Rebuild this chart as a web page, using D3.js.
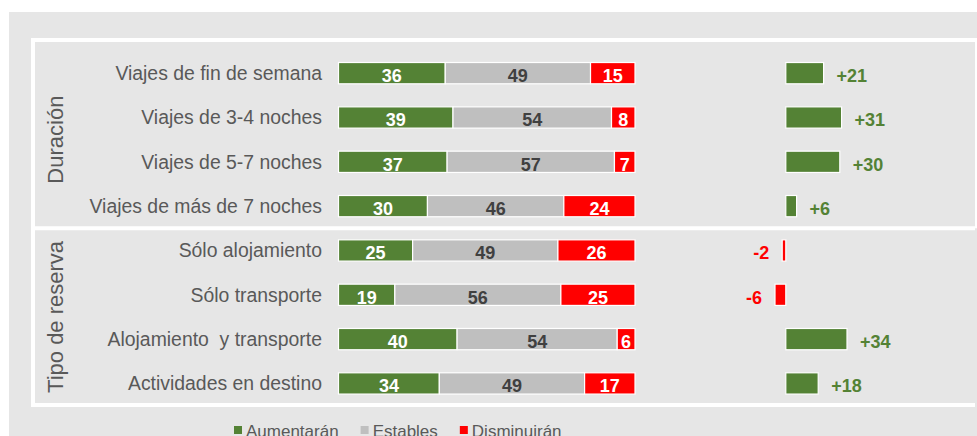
<!DOCTYPE html>
<meta charset="utf-8">
<head>
    <title>Expectativas de viajes</title>
</head>

<style>
  body {
    margin: 0;
    background: #fff;
  }

  svg text {
    font-family: Arial, "Liberation Sans", sans-serif;
  }

  .catLabel {
    font-size: 19.4px;
    fill: #595959;
    text-anchor: end;
    white-space: pre;
  }

  .groupLabel {
    font-size: 22px;
    fill: #595959;
    text-anchor: middle;
  }

  .valLabel {
    font-size: 18px;
    font-weight: bold;
    text-anchor: middle;
  }

  .netLabel {
    font-size: 18px;
    font-weight: bold;
  }

  .legendLabel {
    font-size: 17px;
    fill: #595959;
  }

  .frame {
    stroke: #fff;
    stroke-width: 4px;
  }
</style>
<body>
<script src="https://d3js.org/d3.v7.min.js"></script>

<script>
var width = 977,
    height = 436;

// data
var categories = [
  "Viajes de fin de semana",
  "Viajes de 3-4 noches",
  "Viajes de 5-7 noches",
  "Viajes de más de 7 noches",
  "Sólo alojamiento",
  "Sólo transporte",
  "Alojamiento  y transporte",
  "Actividades en destino"
];
var groups = ["Duración", "Tipo de reserva"];
var groupOf = [0, 0, 0, 0, 1, 1, 1, 1];

var series = ["Aumentarán", "Estables", "Disminuirán"];
var aumentaran  = [36, 39, 37, 30, 25, 19, 40, 34];
var estables    = [49, 54, 57, 46, 49, 56, 54, 49];
var disminuiran = [15, 8, 7, 24, 26, 25, 6, 17];
var saldo       = [21, 31, 30, 6, -2, -6, 34, 18];

var colors = ["#548235", "#bfbfbf", "#ff0000"];
var labelColors = ["#fff", "#404040", "#fff"];

// rows for the stack
var rows = categories.map(function(c, i) {
  return {cat: c, "Aumentarán": aumentaran[i], "Estables": estables[i], "Disminuirán": disminuiran[i]};
});

var stacked = d3.stack()
    .keys(series)
    .offset(d3.stackOffsetExpand)(rows);

var svg = d3.select("body").append("svg")
    .attr("width", width)
    .attr("height", height);

// background panel
svg.append("rect")
    .attr("x", 9).attr("y", 12)
    .attr("width", width - 9).attr("height", height - 12)
    .attr("fill", "#e6e6e6");

// scales
var y = d3.scaleBand()
    .domain(categories)
    .range([51, 405.6]);

var x = d3.scaleLinear()
    .domain([0, 1])
    .range([338.5, 635]);

var xNet = d3.scaleLinear()
    .domain([-6, 34])
    .range([775, 847]);

var barH = y.bandwidth() * 0.48;
function rowTop(d) { return y(d) + (y.bandwidth() - barH) / 2; }
function rowMid(d) { return y(d) + y.bandwidth() / 2; }

// group frames (white lines)
var sep = y(categories[4]);
svg.append("line").attr("class", "frame")
    .attr("x1", 31).attr("x2", width).attr("y1", 40).attr("y2", 40);
svg.append("line").attr("class", "frame")
    .attr("x1", 31).attr("x2", 975).attr("y1", sep).attr("y2", sep);
svg.append("line").attr("class", "frame")
    .attr("x1", 31).attr("x2", 975).attr("y1", 405).attr("y2", 405);
svg.append("line").attr("class", "frame")
    .attr("x1", 33).attr("x2", 33).attr("y1", 38).attr("y2", 407);
svg.append("line").attr("class", "frame")
    .style("stroke-width", "2px")
    .attr("x1", 976).attr("x2", 976).attr("y1", 38).attr("y2", sep);

// group labels, rotated
groups.forEach(function(g, gi) {
  var cats = categories.filter(function(c, i) { return groupOf[i] === gi; });
  var cy = (rowMid(cats[0]) + rowMid(cats[cats.length - 1])) / 2;
  svg.append("text")
      .attr("class", "groupLabel")
      .attr("transform", "translate(63," + cy + ") rotate(-90)")
      .text(g);
});

// category labels
svg.selectAll(".catLabel")
    .data(categories)
  .enter().append("text")
    .attr("class", "catLabel")
    .attr("x", 322)
    .attr("y", function(d) { return rowMid(d) + 7; })
    .text(function(d) { return d; });

// stacked bars
var layer = svg.selectAll(".layer")
    .data(stacked)
  .enter().append("g")
    .attr("class", "layer");

layer.selectAll("rect")
    .data(function(s) { return s.map(function(p) { return {p: p, key: s.key, idx: s.index}; }); })
  .enter().append("rect")
    .attr("x", function(d) { return x(d.p[0]); })
    .attr("y", function(d) { return rowTop(d.p.data.cat); })
    .attr("width", function(d) { return x(d.p[1]) - x(d.p[0]); })
    .attr("height", barH)
    .attr("fill", function(d) { return colors[d.idx]; })
    .attr("stroke", "#fff")
    .attr("stroke-width", 1.2);

layer.selectAll("text")
    .data(function(s) { return s.map(function(p) { return {p: p, key: s.key, idx: s.index}; }); })
  .enter().append("text")
    .attr("class", "valLabel")
    .attr("x", function(d) { return (x(d.p[0]) + x(d.p[1])) / 2; })
    .attr("y", function(d) { return rowMid(d.p.data.cat) + 9; })
    .attr("fill", function(d) { return labelColors[d.idx]; })
    .text(function(d) { return d.p.data[d.key]; });

// net balance bars
svg.selectAll(".net")
    .data(saldo)
  .enter().append("rect")
    .attr("class", "net")
    .attr("x", function(d) { return xNet(Math.min(0, d)); })
    .attr("y", function(d, i) { return rowTop(categories[i]); })
    .attr("width", function(d) { return Math.abs(xNet(d) - xNet(0)); })
    .attr("height", barH)
    .attr("fill", function(d) { return d < 0 ? colors[2] : colors[0]; })
    .attr("stroke", "#fff")
    .attr("stroke-width", 1.2);

svg.selectAll(".netLabel")
    .data(saldo)
  .enter().append("text")
    .attr("class", "netLabel")
    .attr("x", function(d) { return d < 0 ? xNet(d) - 13 : xNet(d) + 13; })
    .attr("y", function(d, i) { return rowMid(categories[i]) + 9; })
    .attr("text-anchor", function(d) { return d < 0 ? "end" : "start"; })
    .attr("fill", function(d) { return d < 0 ? colors[2] : colors[0]; })
    .text(function(d) { return d > 0 ? "+" + d : d; });

// legend (cut by the bottom edge, as in the original)
var legend = svg.append("g").attr("class", "legend");
var lx = 234;
series.forEach(function(s, i) {
  legend.append("rect")
      .attr("x", lx).attr("y", 426)
      .attr("width", 8).attr("height", 8)
      .attr("fill", colors[i]);
  var t = legend.append("text")
      .attr("class", "legendLabel")
      .attr("x", lx + 12)
      .attr("y", 437)
      .text(s);
  lx += 12 + t.node().getComputedTextLength() + 22;
});
</script>
</body>
